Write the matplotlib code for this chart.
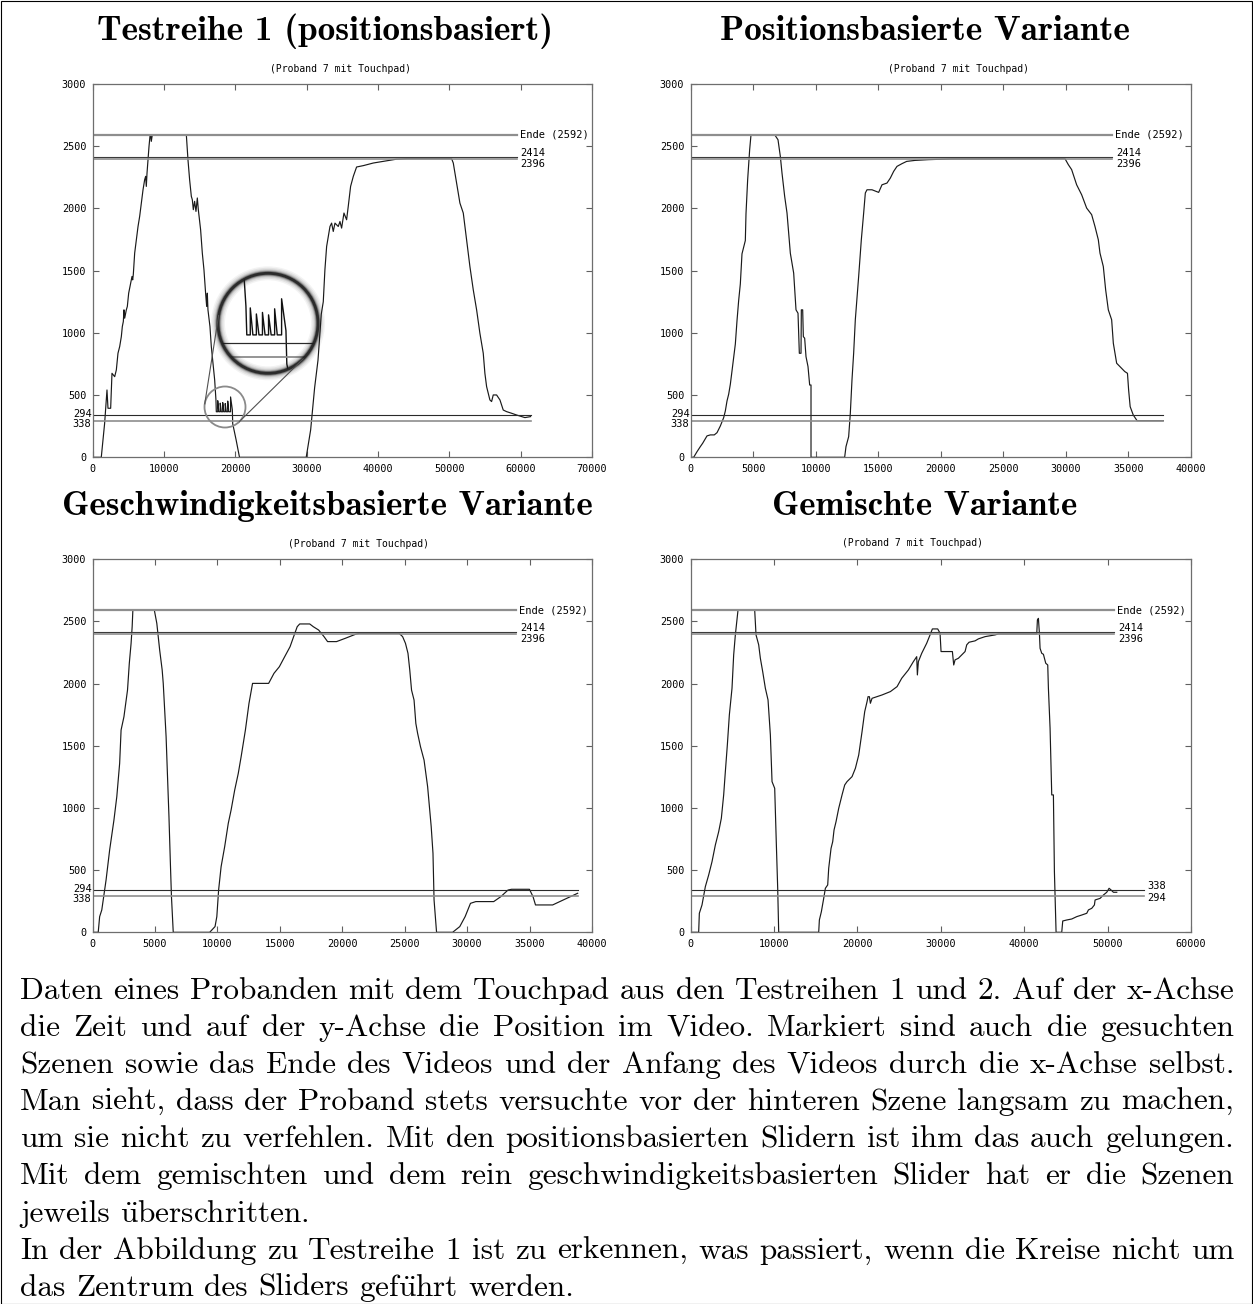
import matplotlib
matplotlib.use("Agg")
import matplotlib.pyplot as plt
import matplotlib.ticker as mticker
from matplotlib.patches import Circle, Rectangle
from matplotlib.lines import Line2D
from matplotlib.transforms import IdentityTransform, blended_transform_factory, offset_copy
import numpy as np

plt.rcParams['font.family'] = ['DejaVu Sans Mono']
plt.rcParams['font.size'] = 7
plt.rcParams['mathtext.fontset'] = 'cm'

W, H = 1253, 1304

# marker values (video positions)
ENDE = 2592
SCENE_BACK = [2414, 2396]
SCENE_FRONT = [338, 294]

# Testreihe 1 (positionsbasiert)
p1_t = [0, 1230, 1700, 2030, 2170, 2545, 2730, 3110, 3340, 3570, 3810, 4040, 4180, 4320, 4410, 4510,
        4740, 4880, 5070, 5350, 5535, 5630, 5720, 5910, 6140, 6380, 6610, 6840, 7080, 7310, 7450, 7540,
        7640, 7780, 7920, 8060, 8150, 8240, 8380, 13150, 13380, 13610, 13850, 13990, 14130, 14310, 14500,
        14690, 14830, 15150, 15390, 15620, 15850, 16000, 16090, 16180, 16460, 16650, 16930, 17120, 17300,
        17350, 17550, 17550, 17700, 17900, 17900, 18050, 18250, 18250, 18400, 18600, 18600, 18750, 18950,
        18950, 19100, 19350, 19350, 19600, 19650, 20130, 20600, 29950, 30570, 31130, 31600, 32060, 32340,
        32570, 32810, 33040, 33280, 33510, 33740, 33980, 34440, 34680, 34910, 35240, 35610, 35840, 36170,
        36550, 37010, 37950, 39350, 40750, 42620, 44000, 50320, 50560, 51020, 51490, 51960, 52420, 52890,
        53360, 53830, 54290, 54760, 54990, 55230, 55690, 55930, 56160, 56630, 57100, 57560, 58030, 58730,
        59430, 60130, 60600, 61390]
p1_pos = [0, 0, 273, 541, 394, 394, 675, 648, 702, 836, 890, 970, 1051, 1091, 1185, 1118,
          1185, 1212, 1319, 1399, 1453, 1426, 1470, 1641, 1748, 1855, 1936, 2043, 2150, 2231, 2258, 2177,
          2284, 2392, 2499, 2584, 2592, 2539, 2592, 2592, 2391, 2231, 2097, 2070, 1990, 2057, 1976,
          2084, 1990, 1829, 1641, 1507, 1319, 1212, 1319, 1185, 1051, 890, 729, 622, 461,
          366, 366, 455, 366, 366, 435, 366, 366, 440, 366, 366, 432, 366, 366,
          452, 366, 366, 485, 380, 270, 139, 0, 0, 220, 560, 780, 1150, 1250,
          1507, 1694, 1775, 1855, 1882, 1815, 1882, 1855, 1895, 1842, 1963, 1909, 2016, 2177,
          2258, 2333, 2344, 2365, 2378, 2396, 2400, 2400, 2365, 2204, 2043, 1963, 1748, 1533,
          1346, 1185, 997, 836, 675, 568, 461, 448, 501, 501, 461, 380, 367, 354,
          340, 327, 319, 327]

# Positionsbasierte Variante
p2_t = [0, 253, 520, 786, 973, 1319, 1586, 1900, 2119, 2386, 2652, 2785, 2918, 3051, 3184, 3317, 3450,
        3583, 3716, 3849, 3982, 4115, 4382, 4435, 4568, 4728, 4835, 6727, 6993, 7180, 7313, 7526, 7713,
        7846, 7979, 8246, 8432, 8592, 8645, 8698, 8832, 8858, 8965, 9018, 9124, 9231, 9391, 9524, 9631,
        9631, 12320, 12427, 12640, 12773, 12906, 13039, 13172, 13439, 13652, 13839, 13972, 14105, 14505,
        15038, 15304, 15704, 15970, 16237, 16503, 16903, 17276, 17942, 19007, 20872, 29928, 30195, 30461,
        30861, 31261, 31660, 32060, 32326, 32593, 32726, 32992, 33179, 33392, 33659, 33792, 34058, 34708,
        34923, 35015, 35138, 35385, 35692, 37785]
p2_pos = [0, 0, 45, 86, 113, 172, 180, 180, 198, 252, 319, 373, 453, 507, 587, 694, 802,
          910, 1097, 1260, 1393, 1635, 1742, 1957, 2231, 2472, 2592, 2592, 2552, 2418, 2284, 2097, 1963,
          1802, 1640, 1480, 1185, 1158, 997, 836, 836, 1185, 1185, 970, 957, 809, 729, 581, 581,
          0, 0, 86, 166, 354, 622, 836, 1105, 1453, 1748, 1963, 2124, 2150, 2150,
          2129, 2190, 2204, 2244, 2298, 2338, 2360, 2378, 2386, 2392, 2398, 2400, 2352, 2312,
          2190, 2110, 2003, 1950, 1855, 1748, 1641, 1533, 1346, 1185, 1105, 917, 756, 689,
          675, 541, 407, 340, 294, 294]

# Geschwindigkeitsbasierte Variante
p3_t = [0, 458, 572, 744, 858, 1087, 1373, 1717, 1946, 2174, 2289, 2518, 2660, 2804, 2947, 3090, 3176,
        3233, 4950, 5150, 5379, 5579, 5665, 5751, 5894, 6008, 6123, 6237, 6323, 6466, 9384, 9813, 9956,
        10099, 10299, 10585, 10872, 11100, 11387, 11673, 11902, 12245, 12531, 12817, 14105, 14534, 14963,
        15392, 15821, 16107, 16393, 16594, 17395, 17681, 18110, 18540, 18826, 19541, 20256, 21114, 21401,
        24548, 24834, 25063, 25263, 25406, 25549, 25750, 25893, 26036, 26265, 26551, 26837, 27123, 27266,
        27352, 27552, 28839, 29411, 29840, 30269, 30698, 32129, 32701, 33273, 33559, 34990, 35276, 35476,
        36849, 37421, 38851]
p3_pos = [0, 0, 126, 180, 260, 421, 662, 903, 1091, 1359, 1627, 1734, 1841, 1948, 2163, 2324, 2458,
          2592, 2592, 2485, 2270, 2110, 2002, 1841, 1573, 1251, 930, 555, 287, 0, 0, 46, 126,
          340, 528, 689, 876, 984, 1144, 1278, 1412, 1627, 1841, 2002, 2002, 2083, 2136,
          2217, 2297, 2378, 2458, 2480, 2480, 2458, 2431, 2378, 2338, 2338, 2365, 2399, 2405,
          2405, 2378, 2324, 2244, 2110, 1948, 1868, 1680, 1600, 1493, 1385, 1171, 850, 635,
          260, 0, 0, 46, 126, 233, 247, 247, 287, 340, 346, 346, 287, 220,
          220, 247, 314]

# Gemischte Variante
p4_t = [0, 979, 1060, 1379, 1779, 2179, 2578, 2978, 3378, 3697, 3977, 4177, 4417, 4657, 4976, 5176,
        5376, 5696, 7695, 7855, 8175, 8375, 8654, 8974, 9294, 9574, 9774, 10094, 10294, 10453, 10573,
        15369, 15449, 15689, 15969, 16169, 16448, 16568, 16848, 17048, 17208, 17447, 17767, 18167, 18487,
        18767, 19366, 19766, 20166, 20565, 20885, 21165, 21285, 21445, 21565, 21765, 22964, 23963, 24763,
        25319, 26119, 26718, 27118, 27198, 27318, 27718, 28317, 28717, 28997, 29636, 29916, 30036, 31395,
        31555, 31715, 32115, 32514, 32914, 33114, 33394, 34113, 34513, 35313, 36512, 36911, 41507, 41587,
        41707, 41827, 41907, 42107, 42307, 42586, 42826, 42906, 43106, 43306, 43505, 43625, 43825, 44504,
        44624, 45104, 45704, 46303, 46903, 47503, 47703, 48102, 48422, 48502, 49102, 49501, 49901, 50181,
        50421, 50701, 51100]
p4_pos = [0, 0, 153, 220, 367, 461, 568, 702, 809, 917, 1105, 1292, 1507, 1748, 1963, 2231,
          2392, 2592, 2592, 2392, 2312, 2204, 2097, 1963, 1869, 1587, 1212, 1158, 702, 354, 0,
          0, 99, 166, 273, 354, 381, 515, 675, 729, 823, 890, 997, 1105, 1185,
          1212, 1252, 1319, 1426, 1614, 1775, 1855, 1895, 1895, 1842, 1882, 1909, 1936, 1976,
          2043, 2110, 2177, 2217, 2070, 2177, 2244, 2325, 2392, 2440, 2440, 2405, 2258, 2258,
          2150, 2191, 2204, 2231, 2258, 2312, 2333, 2344, 2360, 2378, 2392, 2400, 2400, 2512,
          2525, 2405, 2284, 2244, 2236, 2164, 2150, 1963, 1641, 1105, 1105, 488, 0, 0,
          91, 99, 107, 126, 139, 153, 180, 193, 220, 260, 273, 300, 322, 354,
          340, 322, 322]

panels = [
    dict(t=p1_t, pos=p1_pos, box=(92.5, 84, 592, 457.3), xmax=70000, xstep=10000,
         ende_end=59430, scene_end=61390, front='left',
         title="Testreihe 1 (positionsbasiert)", title_xy=(325, 40), title_w=456, sub_xy=(341, 69)),
    dict(t=p2_t, pos=p2_pos, box=(690.5, 84, 1191, 457.3), xmax=40000, xstep=5000,
         ende_end=33690, scene_end=37785, front='left',
         title="Positionsbasierte Variante", title_xy=(925, 40), title_w=410, sub_xy=(958, 69)),
    dict(t=p3_t, pos=p3_pos, box=(92.5, 559.3, 592, 932.3), xmax=40000, xstep=5000,
         ende_end=33930, scene_end=38850, front='left',
         title="Geschwindigkeitsbasierte Variante", title_xy=(327, 515), title_w=530, sub_xy=(358, 544)),
    dict(t=p4_t, pos=p4_pos, box=(690.5, 559.3, 1191, 932.3), xmax=60000, xstep=10000,
         ende_end=50810, scene_end=54390, front='right',
         title="Gemischte Variante", title_xy=(925, 515), title_w=305, sub_xy=(912, 543)),
]

fig = plt.figure(figsize=(W / 100, H / 100), dpi=100)
renderer = fig.canvas.get_renderer()

CURVE = '#1a1a1a'
GREY = '#8e8e8e'
LBL = 7.5


def px_axes(left, top, right, bottom):
    return fig.add_axes([left / W, 1 - bottom / H, (right - left) / W, (bottom - top) / H])


def ref_lines(ax, ende_end, scene_end, lw_scale=1.0):
    ax.plot([0, ende_end], [ENDE, ENDE], color=GREY, lw=1.6 * lw_scale, zorder=3)
    ax.plot([0, ende_end], [SCENE_BACK[0]] * 2, color='#3a3a3a', lw=0.8 * lw_scale, zorder=3)
    ax.plot([0, ende_end], [SCENE_BACK[1]] * 2, color=GREY, lw=1.2 * lw_scale, zorder=3)
    ax.plot([0, scene_end], [SCENE_FRONT[0]] * 2, color='#2a2a2a', lw=0.8 * lw_scale, zorder=3)
    ax.plot([0, scene_end], [SCENE_FRONT[1]] * 2, color=GREY, lw=1.2 * lw_scale, zorder=3)


axes = []
for p in panels:
    ax = px_axes(*p['box'])
    axes.append(ax)
    ax.plot(p['t'], p['pos'], color=CURVE, lw=0.85, zorder=2)
    ref_lines(ax, p['ende_end'], p['scene_end'])

    ax.set_xlim(0, p['xmax'])
    ax.set_ylim(0, 3000)
    ax.set_xticks(np.arange(0, p['xmax'] + 1, p['xstep']))
    ax.set_yticks(np.arange(0, 3001, 500))
    ax.xaxis.set_major_formatter(mticker.FormatStrFormatter('%d'))
    ax.yaxis.set_major_formatter(mticker.FormatStrFormatter('%d'))
    ax.tick_params(direction='in', length=4, width=0.8, color='#606060', top=True, right=True,
                   labelsize=7.3, pad=4.5)
    for s in ax.spines.values():
        s.set_color('#6e6e6e')
        s.set_linewidth(0.9)
        s.set_zorder(5)

    # labels at the ends of the marker lines
    tr = offset_copy(ax.transData, fig, x=3, y=0, units='dots')
    ax.text(p['ende_end'], ENDE, "Ende (2592)", transform=tr, ha='left', va='center', fontsize=LBL)
    ax.text(p['ende_end'], SCENE_BACK[0], "2414",
            transform=offset_copy(ax.transData, fig, x=4, y=4, units='dots'),
            ha='left', va='center', fontsize=LBL)
    ax.text(p['ende_end'], SCENE_BACK[1], "2396",
            transform=offset_copy(ax.transData, fig, x=4, y=-5, units='dots'),
            ha='left', va='center', fontsize=LBL)
    if p['front'] == 'left':
        bt = blended_transform_factory(ax.transAxes, ax.transData)
        ax.text(0, SCENE_FRONT[0], "294", transform=offset_copy(bt, fig, x=-1, y=1, units='dots'),
                ha='right', va='center', fontsize=LBL)
        ax.text(0, SCENE_FRONT[1], "338", transform=offset_copy(bt, fig, x=-1, y=-3, units='dots'),
                ha='right', va='center', fontsize=LBL)
    else:
        ax.text(p['scene_end'], SCENE_FRONT[0], "338",
                transform=offset_copy(ax.transData, fig, x=3, y=4, units='dots'),
                ha='left', va='center', fontsize=LBL)
        ax.text(p['scene_end'], SCENE_FRONT[1], "294",
                transform=offset_copy(ax.transData, fig, x=3, y=-2, units='dots'),
                ha='left', va='center', fontsize=LBL)

    # titles
    sx, sy = p['sub_xy']
    fig.text(sx / W, 1 - sy / H, "(Proband 7 mit Touchpad)", ha='center', va='center', fontsize=7)
    tx, ty = p['title_xy']
    tt = fig.text(tx / W, 1 - ty / H, p['title'], ha='center', va='baseline',
                  family=['cmb10', 'DejaVu Serif'], fontsize=20)
    tw = tt.get_window_extent(renderer).width
    tt.set_fontsize(20 * p['title_w'] / tw)

# magnifier on the first panel (pixel layout)
ax = axes[0]
small_c, small_r = (225.0, 407.0), 20.5
big_c, big_r = (268.0, 323.3), 50.0
inv = ax.transData.inverted()
(x0, y0) = inv.transform((small_c[0] - small_r, H - (small_c[1] + small_r)))
(x1, y1) = inv.transform((small_c[0] + small_r, H - (small_c[1] - small_r)))
ax_in = fig.add_axes([(big_c[0] - big_r) / W, 1 - (big_c[1] + big_r) / H, 2 * big_r / W, 2 * big_r / H])
ax_in.set_xlim(x0, x1)
ax_in.set_ylim(y0, y1)
ax_in.axis('off')
ax_in.add_patch(Circle((0.5, 0.5), 0.5, transform=ax_in.transAxes, fc='white', ec='none', zorder=0))
clip = Circle((0.5, 0.5), 0.5, transform=ax_in.transAxes)
ax_in.plot(p1_t, p1_pos, color='#111111', lw=1.0, zorder=2)
ref_lines(ax_in, panels[0]['ende_end'], panels[0]['scene_end'], lw_scale=1.1)
for ln in ax_in.lines:
    ln.set_clip_path(clip)
for lw, a in [(10, 0.05), (8, 0.07), (6, 0.1), (4.5, 0.18), (3.2, 0.4), (2.0, 0.85)]:
    ax_in.add_patch(Circle((0.5, 0.5), 0.5, transform=ax_in.transAxes, fill=False,
                           ec='#1e1e1e', lw=lw, alpha=a, clip_on=False, zorder=4))

fig.add_artist(Circle((small_c[0], H - small_c[1]), small_r, transform=IdentityTransform(),
                      fill=False, ec='#8a8a8a', lw=1.3))
# external tangents between the two circles
c1 = np.array([small_c[0], H - small_c[1]])
c2 = np.array([big_c[0], H - big_c[1]])
d = np.linalg.norm(c2 - c1)
u = (c2 - c1) / d
up = np.array([-u[1], u[0]])
cs = (small_r - big_r) / d
sn = np.sqrt(1 - cs ** 2)
for sgn in (1, -1):
    m = cs * u + sgn * sn * up
    a_pt = c1 + small_r * m
    b_pt = c2 + big_r * m
    fig.add_artist(Line2D([a_pt[0], b_pt[0]], [a_pt[1], b_pt[1]], transform=IdentityTransform(),
                          color='#505050', lw=0.8))

# caption
caption_lines = [
    ("Daten eines Probanden mit dem Touchpad aus den Testreihen 1 und 2. Auf der x-Achse", True),
    ("die Zeit und auf der y-Achse die Position im Video. Markiert sind auch die gesuchten", True),
    ("Szenen sowie das Ende des Videos und der Anfang des Videos durch die x-Achse selbst.", True),
    ("Man sieht, dass der Proband stets versuchte vor der hinteren Szene langsam zu machen,", True),
    ("um sie nicht zu verfehlen. Mit den positionsbasierten Slidern ist ihm das auch gelungen.", True),
    ("Mit dem gemischten und dem rein geschwindigkeitsbasierten Slider hat er die Szenen", True),
    ("jeweils überschritten.", False),
    ("In der Abbildung zu Testreihe 1 ist zu erkennen, was passiert, wenn die Kreise nicht um", True),
    ("das Zentrum des Sliders geführt werden.", False),
]
CAP_FONT = ['cmr10', 'DejaVu Serif']
CAP_SIZE = 22.5
X0, X1 = 20, 1234
space = 0.333 * CAP_SIZE * 100 / 72
for i, (line, justify) in enumerate(caption_lines):
    yb = 999 + 37.1 * i
    words = [w.replace('ü', r'$\ddot{\mathrm{u}}$') for w in line.split(' ')]
    arts = [fig.text(0, 1 - yb / H, w, family=CAP_FONT, fontsize=CAP_SIZE, ha='left', va='baseline')
            for w in words]
    widths = [a.get_window_extent(renderer).width for a in arts]
    gap = (X1 - X0 - sum(widths)) / (len(words) - 1) if justify else space
    x = X0
    for a, w in zip(arts, widths):
        a.set_x(x / W)
        x += w + gap

fig.add_artist(Rectangle((0.5, 0.5), W - 1.5, H - 1.5, transform=IdentityTransform(),
                         fill=False, ec='black', lw=0.8))

fig.savefig("out.png", dpi=100)
